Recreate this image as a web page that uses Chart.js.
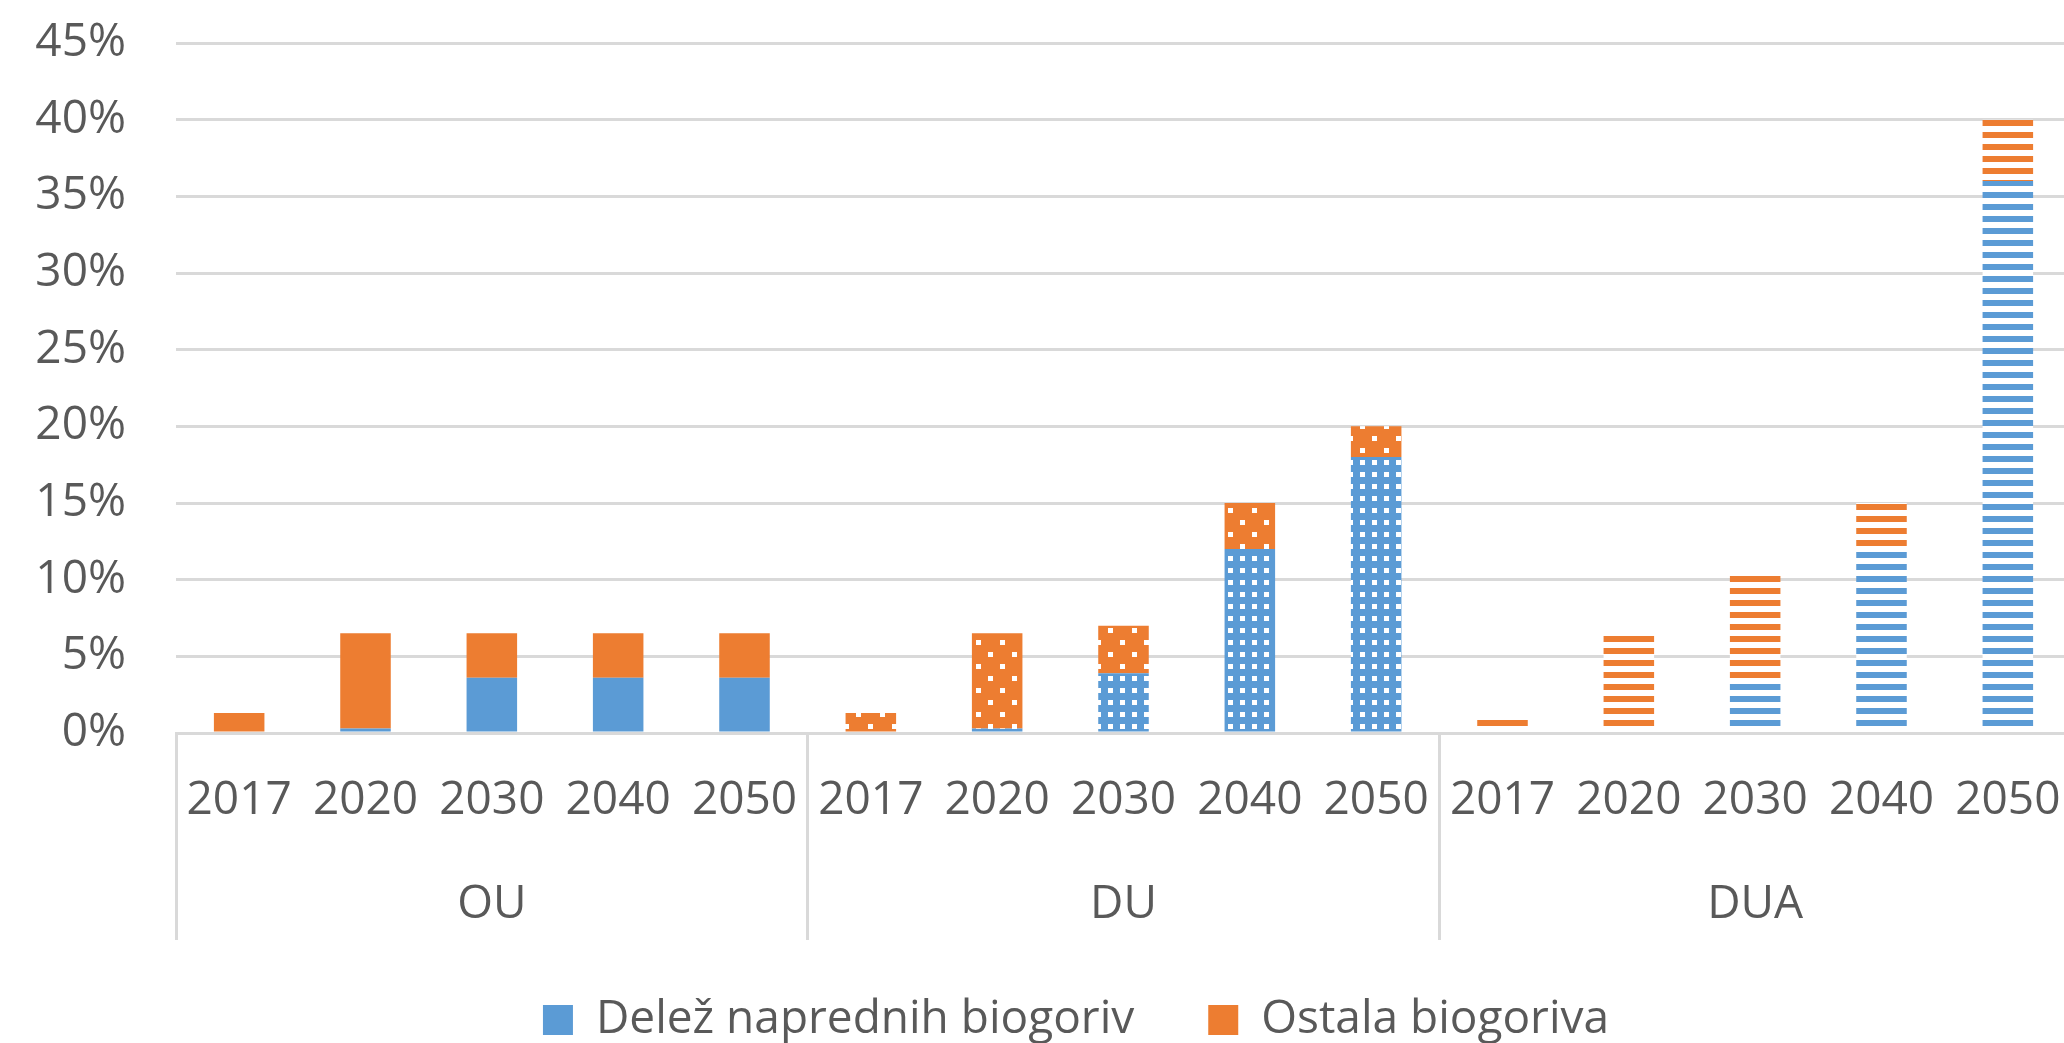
<!DOCTYPE html>
<html>
<head>
<meta charset="utf-8">
<script src="https://cdn.jsdelivr.net/npm/chart.js@4.4.1/dist/chart.umd.min.js"></script>
<style>
  html, body { margin: 0; padding: 0; background: #fff; overflow: hidden; }
  #wrap { position: absolute; left: 0; top: 0; width: 2071px; height: 1053px; }
</style>
</head>
<body>
<div id="wrap"><canvas id="bioChart"></canvas></div>
<script>
const groups = ['OU', 'DU', 'DUA'];
const years = ['2017', '2020', '2030', '2040', '2050'];
const seriesNames = ['Delež naprednih biogoriv', 'Ostala biogoriva'];
// values in %, order: OU 2017..2050, DU 2017..2050, DUA 2017..2050
const advanced = [0, 0.3, 3.6, 3.6, 3.6, 0, 0.3, 3.9, 12, 18, 0, 0.3, 3.5, 12, 36];
const other = [1.3, 6.2, 2.9, 2.9, 2.9, 1.3, 6.2, 3.1, 3, 2, 1.0, 6.2, 6.9, 3, 4];
const yTicks = [0, 5, 10, 15, 20, 25, 30, 35, 40, 45];

const BLUE = '#5B9BD5';
const ORANGE = '#ED7D31';
const GRID = '#D9D9D9';
const TEXT = '#595959';

Chart.defaults.font.family = "'Open Sans', 'Noto Sans', sans-serif";
Chart.defaults.font.size = 46;
Chart.defaults.color = TEXT;

// small tiles for the Excel-like fill patterns
const makeTile = (w, h, draw) => {
    const c = document.createElement('canvas');
    c.width = w;
    c.height = h;
    const g = c.getContext('2d');
    g.fillStyle = '#fff';
    g.fillRect(0, 0, w, h);
    draw(g);
    return g.createPattern(c, 'repeat');
};

const gridDots = (color) => makeTile(12, 12, g => {
    g.fillStyle = color;
    g.fillRect(0, 0, 12, 12);
    g.fillStyle = '#fff';
    g.fillRect(4, 4, 5, 5);
});

const diamondDots = (color) => makeTile(24, 24, g => {
    g.fillStyle = color;
    g.fillRect(0, 0, 24, 24);
    g.fillStyle = '#fff';
    g.fillRect(4, 4, 5, 5);
    g.fillRect(16, 16, 5, 5);
});

const stripes = (color) => makeTile(12, 12, g => {
    g.fillStyle = color;
    g.fillRect(0, 0, 12, 6);
});

const fillsFor = (solid, dotted, striped) =>
    groups.flatMap((grp, gi) => years.map(() => [solid, dotted, striped][gi]));

const labels = groups.flatMap(() => years);

// the original legend sits a bit right of the canvas centre
const legendNudge = {
    id: 'legendNudge',
    afterLayout(chart) {
        chart.legend.left += 28;
        chart.legend.right += 28;
    }
};

const ctx = document.getElementById('bioChart').getContext('2d');
new Chart(ctx, {
    type: 'bar',
    data: {
        labels: labels,
        datasets: [
            {
                label: seriesNames[0],
                data: advanced,
                backgroundColor: fillsFor(BLUE, gridDots(BLUE), stripes(BLUE)),
                borderWidth: 0,
                barPercentage: 0.4,
                categoryPercentage: 1
            },
            {
                label: seriesNames[1],
                data: other,
                backgroundColor: fillsFor(ORANGE, diamondDots(ORANGE), stripes(ORANGE)),
                borderWidth: 0,
                barPercentage: 0.4,
                categoryPercentage: 1
            }
        ]
    },
    plugins: [legendNudge],
    options: {
        responsive: true,
        maintainAspectRatio: false,
        animation: false,
        layout: { padding: { top: 43, left: 25, right: 0, bottom: 0 } },
        plugins: {
            tooltip: { enabled: false },
            legend: {
                position: 'bottom',
                labels: {
                    boxWidth: 30,
                    boxHeight: 30,
                    padding: 74,
                    color: TEXT,
                    font: { size: 46 }
                }
            }
        },
        scales: {
            x: {
                stacked: true,
                offset: true,
                weight: 0,
                grid: {
                    offset: true,
                    drawOnChartArea: false,
                    color: (c) => (c.index !== undefined && c.index % 5 === 0) ? GRID : 'rgba(0,0,0,0)',
                    lineWidth: 3,
                    tickLength: 207
                },
                border: { color: GRID, width: 3 },
                ticks: { padding: -167, maxRotation: 0, autoSkip: false },
                afterFit: (s) => { s.height = 130; }
            },
            x2: {
                type: 'category',
                labels: groups,
                position: 'bottom',
                offset: true,
                weight: 1,
                grid: { display: false, drawTicks: false },
                border: { display: false },
                ticks: { padding: 14, maxRotation: 0 },
                afterFit: (s) => { s.height = 60; }
            },
            y: {
                stacked: true,
                min: yTicks[0],
                max: yTicks[yTicks.length - 1],
                ticks: {
                    stepSize: 5,
                    padding: 0,
                    callback: (v) => v + '%'
                },
                grid: {
                    color: GRID,
                    lineWidth: 3,
                    drawTicks: true,
                    tickLength: 50,
                    tickColor: 'rgba(0,0,0,0)'
                },
                border: { display: false },
                afterFit: (s) => { s.width = 151; }
            }
        }
    }
});
</script>
</body>
</html>
